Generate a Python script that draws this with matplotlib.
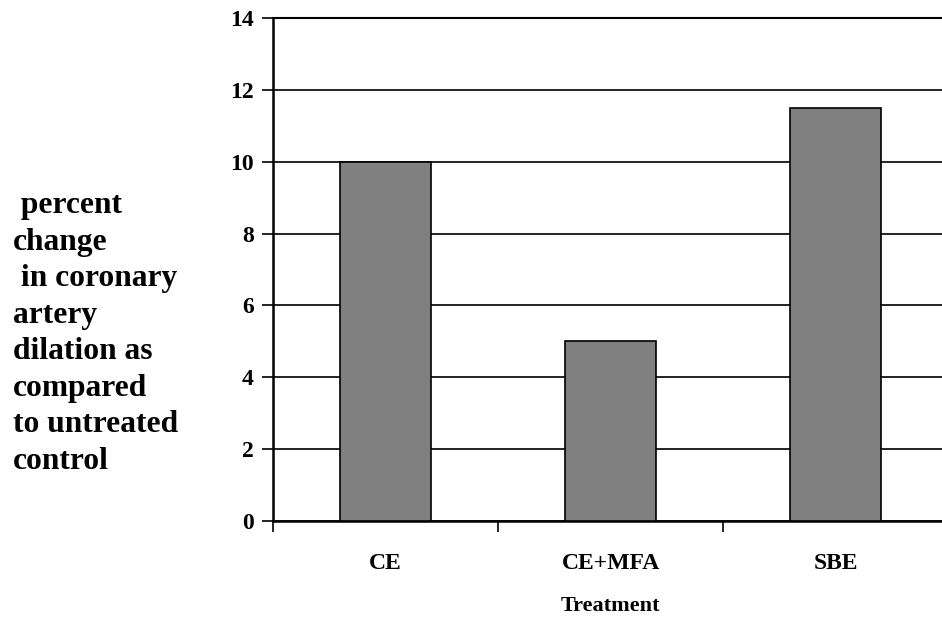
import matplotlib.pyplot as plt
from matplotlib.ticker import FixedLocator

treatments = ['CE', 'CE+MFA', 'SBE']
dilation_change = [10.0, 5.0, 11.5]
y_ticks = [0, 2, 4, 6, 8, 10, 12, 14]
y_label_lines = [' percent', 'change', ' in coronary', 'artery',
                 'dilation as', 'compared', 'to untreated', 'control']

plt.rcParams['font.family'] = ['Liberation Serif', 'DejaVu Serif']
plt.rcParams['font.weight'] = 'bold'

fig = plt.figure(figsize=(9.42, 6.2), dpi=100)
ax = fig.add_axes([0.2898, 0.1597, 0.7166, 0.8113])

positions = list(range(len(treatments)))
ax.bar(positions, dilation_change, width=0.405, color='#808080',
       edgecolor='black', linewidth=1.2, zorder=3)

ax.set_xlim(-0.5, len(treatments) - 0.5)
ax.set_ylim(0, 14)
ax.set_yticks(y_ticks)
ax.set_yticklabels([str(t) for t in y_ticks], fontsize=17, fontweight='bold')
ax.set_xticks(positions)
ax.set_xticklabels(treatments, fontsize=17, fontweight='bold')
ax.xaxis.set_minor_locator(FixedLocator([p - 0.5 for p in positions]))

ax.tick_params(axis='x', which='major', length=0, pad=23)
ax.tick_params(axis='x', which='minor', length=8, width=1.2, direction='out')
ax.tick_params(axis='y', length=8, width=1.2, pad=6, direction='out')

ax.yaxis.grid(True, color='black', linewidth=1.2, zorder=0)
ax.set_axisbelow(True)
ax.spines['right'].set_visible(False)
ax.spines['top'].set_linewidth(1.5)
ax.spines['left'].set_linewidth(1.8)
ax.spines['bottom'].set_linewidth(1.8)

ax.set_xlabel('Treatment', fontsize=16, fontweight='bold', labelpad=16)

fig.text(0.014, 0.462, '\n'.join(y_label_lines), fontsize=22.7,
         fontweight='bold', ha='left', va='center', multialignment='left',
         linespacing=1.34)

fig.savefig('out.png', dpi=100)
